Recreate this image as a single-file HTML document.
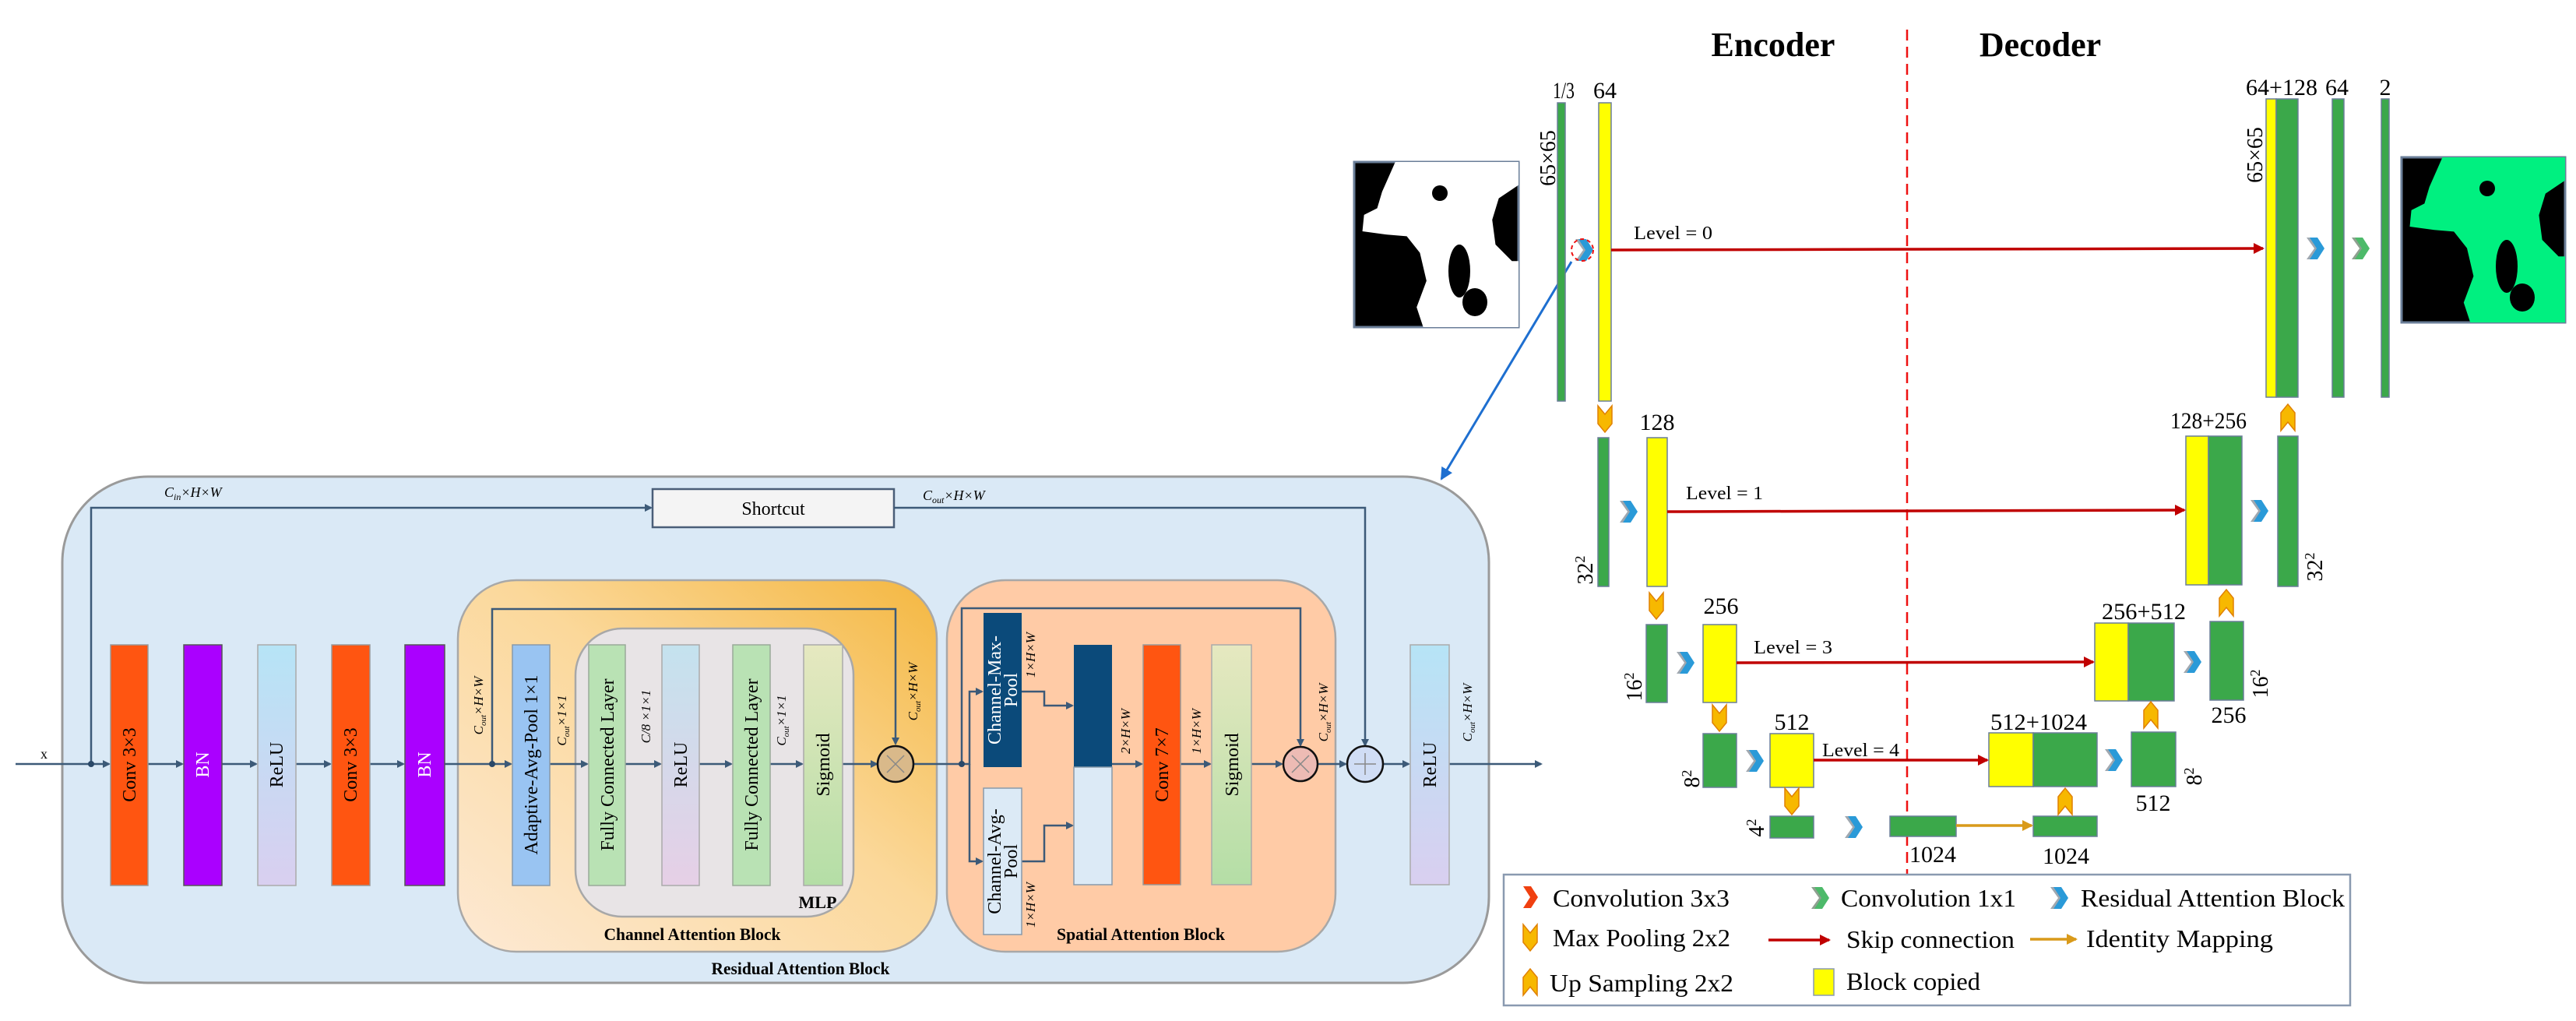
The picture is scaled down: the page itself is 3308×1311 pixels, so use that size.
<!DOCTYPE html>
<html><head><meta charset="utf-8"><style>
html,body{margin:0;padding:0;background:#fff;}
svg{display:block;}
text{font-family:"Liberation Serif",serif;}
</style></head><body>
<svg width="3308" height="1311" viewBox="0 0 3308 1311" xmlns="http://www.w3.org/2000/svg">
<defs>
<marker id="ar" markerWidth="10" markerHeight="10" refX="8" refY="5" orient="auto" markerUnits="userSpaceOnUse"><path d="M0,0 L10,5 L0,10 z" fill="#3C5A78"/></marker>
<marker id="arR" markerWidth="14" markerHeight="14" refX="12" refY="7" orient="auto" markerUnits="userSpaceOnUse"><path d="M0,0 L14,7 L0,14 z" fill="#C00000"/></marker>
<marker id="arO" markerWidth="14" markerHeight="14" refX="12" refY="7" orient="auto" markerUnits="userSpaceOnUse"><path d="M0,0 L14,7 L0,14 z" fill="#D99A1A"/></marker>
<marker id="arB" markerWidth="16" markerHeight="16" refX="14" refY="8" orient="auto" markerUnits="userSpaceOnUse"><path d="M0,0 L16,8 L0,16 z" fill="#1E6FD0"/></marker>
<linearGradient id="gRelu" x1="0" y1="0" x2="0" y2="1"><stop offset="0" stop-color="#B6E4F6"/><stop offset="1" stop-color="#D9CFF0"/></linearGradient>
<linearGradient id="gRelu2" x1="0" y1="0" x2="0" y2="1"><stop offset="0" stop-color="#C4E2EE"/><stop offset="1" stop-color="#E6CFE6"/></linearGradient>
<linearGradient id="gSig" x1="0" y1="0" x2="0" y2="1"><stop offset="0" stop-color="#E6E8C0"/><stop offset="1" stop-color="#B4DEA6"/></linearGradient>
<linearGradient id="gCab" x1="0" y1="1" x2="1" y2="0"><stop offset="0" stop-color="#FDE9D4"/><stop offset="0.55" stop-color="#FBD89A"/><stop offset="1" stop-color="#F4B740"/></linearGradient>
<g id="rab"><polygon points="-10,-14 2,-14 12,0 2,14 -10,14 0,0" fill="#A0A8B0"/><polygon points="-6,-14 4,-14 13,0 4,14 -6,14 3,0" fill="#2A9AD8"/></g>
<g id="c11"><polygon points="-10,-14 2,-14 12,0 2,14 -10,14 0,0" fill="#8FA090"/><polygon points="-6,-14 4,-14 13,0 4,14 -6,14 3,0" fill="#4DBA6A"/></g>
<g id="c33"><polygon points="-6,-14 4,-14 13,0 4,14 -6,14 3,0" fill="#F04010"/></g>
<polygon id="mp" points="-9,-17 0,-6 9,-17 9,6 0,17 -9,6" fill="#F7B800" stroke="#E08000" stroke-width="1.5"/>
<polygon id="up" points="-9,17 0,6 9,17 9,-6 0,-17 -9,-6" fill="#F7B800" stroke="#E08000" stroke-width="1.5"/>
<g id="pat">
<path d="M25,0 L100,0 L100,14 L88,22 L84,35 L86,50 L96,60 L100,60 L100,100 L42,100 L38,88 L44,72 L40,55 L32,45 L20,44 L5,42 L6,32 L14,28 L17,18 Z"/>
</g>
</defs>

<!-- ===== Residual Attention Block ===== -->
<rect x="80" y="612" width="1832" height="650" rx="110" ry="110" fill="#DAE9F6" stroke="#9A9A9A" stroke-width="3"/>
<rect x="588" y="745" width="615" height="477" rx="75" ry="75" fill="url(#gCab)" stroke="#A8A8A8" stroke-width="2.5"/>
<rect x="739" y="807" width="357" height="370" rx="60" ry="60" fill="#E8E4E6" stroke="#A8A8A8" stroke-width="2.5"/>
<rect x="1216" y="745" width="499" height="477" rx="75" ry="75" fill="#FFCBA6" stroke="#A8A8A8" stroke-width="2.5"/>

<rect x="838" y="628" width="310" height="49" fill="#F4F4F4" stroke="#4A5E78" stroke-width="2.5"/>
<text x="993" y="661" font-size="24" text-anchor="middle">Shortcut</text>
<text x="211" y="638" font-size="18" font-style="italic">C<tspan font-size="12" dy="4">in</tspan><tspan dy="-4">×H×W</tspan></text>
<text x="1185" y="642" font-size="18" font-style="italic">C<tspan font-size="12" dy="4">out</tspan><tspan dy="-4">×H×W</tspan></text>

<g stroke="#3C5A78" stroke-width="2.5" fill="none">
<path d="M20,981 L140,981" marker-end="url(#ar)"/>
<path d="M117,981 L117,652 L836,652" marker-end="url(#ar)"/>
<path d="M1148,652 L1753,652 L1753,957" marker-end="url(#ar)"/>
<path d="M190,981 L234,981" marker-end="url(#ar)"/>
<path d="M285,981 L329,981" marker-end="url(#ar)"/>
<path d="M380,981 L424,981" marker-end="url(#ar)"/>
<path d="M475,981 L518,981" marker-end="url(#ar)"/>
<path d="M571,981 L656,981" marker-end="url(#ar)"/>
<path d="M632,981 L632,782 L1150,782 L1150,955" marker-end="url(#ar)"/>
<path d="M706,981 L754,981" marker-end="url(#ar)"/>
<path d="M803,981 L848,981" marker-end="url(#ar)"/>
<path d="M898,981 L939,981" marker-end="url(#ar)"/>
<path d="M989,981 L1030,981" marker-end="url(#ar)"/>
<path d="M1082,981 L1126,981" marker-end="url(#ar)"/>
<path d="M1174,981 L1235,981"/>
<path d="M1235,981 L1235,781 L1670,781 L1670,957" marker-end="url(#ar)"/>
<path d="M1235,981 L1245,981 L1245,888 L1261,888" marker-end="url(#ar)"/>
<path d="M1245,981 L1245,1106 L1261,1106" marker-end="url(#ar)"/>
<path d="M1312,888 L1341,888 L1341,906 L1377,906" marker-end="url(#ar)"/>
<path d="M1312,1106 L1341,1106 L1341,1060 L1377,1060" marker-end="url(#ar)"/>
<path d="M1428,981 L1466,981" marker-end="url(#ar)"/>
<path d="M1516,981 L1554,981" marker-end="url(#ar)"/>
<path d="M1607,981 L1646,981" marker-end="url(#ar)"/>
<path d="M1692,981 L1728,981" marker-end="url(#ar)"/>
<path d="M1776,981 L1809,981" marker-end="url(#ar)"/>
<path d="M1861,981 L1979,981" marker-end="url(#ar)"/>
</g>
<g fill="#2A4868"><circle cx="117" cy="981" r="4"/><circle cx="632" cy="981" r="4"/><circle cx="1235" cy="981" r="4"/></g>
<text x="52" y="974" font-size="18">x</text>

<!-- blocks -->
<rect x="142" y="828" width="48" height="309" fill="#FF5511" stroke="#999" stroke-width="1.5"/>
<rect x="236" y="828" width="49" height="309" fill="#AA00FF" stroke="#555" stroke-width="1.5"/>
<rect x="331" y="828" width="49" height="309" fill="url(#gRelu)" stroke="#aaa" stroke-width="1.5"/>
<rect x="426" y="828" width="49" height="309" fill="#FF5511" stroke="#999" stroke-width="1.5"/>
<rect x="520" y="828" width="51" height="309" fill="#AA00FF" stroke="#555" stroke-width="1.5"/>
<rect x="658" y="828" width="48" height="309" fill="#99C4F2" stroke="#8899AA" stroke-width="1.5"/>
<rect x="756" y="828" width="47" height="309" fill="#B9E2B4" stroke="#99AA99" stroke-width="1.5"/>
<rect x="850" y="828" width="48" height="309" fill="url(#gRelu2)" stroke="#aaa" stroke-width="1.5"/>
<rect x="941" y="828" width="48" height="309" fill="#B9E2B4" stroke="#99AA99" stroke-width="1.5"/>
<rect x="1032" y="828" width="50" height="309" fill="url(#gSig)" stroke="#aaa" stroke-width="1.5"/>
<rect x="1263" y="787" width="49" height="198" fill="#0B4A7A"/>
<rect x="1263" y="1012" width="49" height="188" fill="#DCEAF6" stroke="#8899AA" stroke-width="1.5"/>
<rect x="1379" y="828" width="49" height="157" fill="#0B4A7A"/>
<rect x="1379" y="985" width="49" height="151" fill="#DCEAF6" stroke="#8899AA" stroke-width="1.5"/>
<rect x="1468" y="828" width="48" height="308" fill="#FF5511" stroke="#999" stroke-width="1.5"/>
<rect x="1556" y="828" width="51" height="308" fill="url(#gSig)" stroke="#aaa" stroke-width="1.5"/>
<rect x="1811" y="828" width="50" height="308" fill="url(#gRelu)" stroke="#aaa" stroke-width="1.5"/>

<circle cx="1150" cy="981" r="23" fill="#D9B98A" stroke="#111" stroke-width="2.5"/>
<path d="M1139,970 L1161,992 M1161,970 L1139,992" stroke="#888" stroke-width="1.5"/>
<circle cx="1670" cy="981" r="22" fill="#EDBBB4" stroke="#111" stroke-width="2.5"/>
<path d="M1659,970 L1681,992 M1681,970 L1659,992" stroke="#888" stroke-width="1.5"/>
<circle cx="1753" cy="981" r="23" fill="#D0DDF5" stroke="#111" stroke-width="2.5"/>
<path d="M1739,981 L1767,981 M1753,967 L1753,995" stroke="#888" stroke-width="1.5"/>

<g font-size="24" text-anchor="middle">
<text transform="translate(174,982) rotate(-90)">Conv 3×3</text>
<text transform="translate(268,982) rotate(-90)" fill="#fff">BN</text>
<text transform="translate(363,982) rotate(-90)">ReLU</text>
<text transform="translate(458,982) rotate(-90)">Conv 3×3</text>
<text transform="translate(553,982) rotate(-90)" fill="#fff">BN</text>
<text transform="translate(690,982) rotate(-90)">Adaptive-Avg-Pool 1×1</text>
<text transform="translate(788,982) rotate(-90)">Fully Connected Layer</text>
<text transform="translate(882,982) rotate(-90)">ReLU</text>
<text transform="translate(973,982) rotate(-90)">Fully Connected Layer</text>
<text transform="translate(1065,982) rotate(-90)">Sigmoid</text>
<text transform="translate(1285,886) rotate(-90)" fill="#fff">Channel-Max-</text>
<text transform="translate(1306,886) rotate(-90)" fill="#fff">Pool</text>
<text transform="translate(1285,1106) rotate(-90)">Channel-Avg-</text>
<text transform="translate(1306,1106) rotate(-90)">Pool</text>
<text transform="translate(1500,982) rotate(-90)">Conv 7×7</text>
<text transform="translate(1590,982) rotate(-90)">Sigmoid</text>
<text transform="translate(1844,982) rotate(-90)">ReLU</text>
</g>
<g font-size="17" font-style="italic" text-anchor="middle">
<text transform="translate(620,906) rotate(-90)">C<tspan font-size="11" dy="4">out</tspan><tspan dy="-4">×H×W</tspan></text>
<text transform="translate(727,925) rotate(-90)">C<tspan font-size="11" dy="4">out</tspan><tspan dy="-4">×1×1</tspan></text>
<text transform="translate(835,920) rotate(-90)">C/8 ×1×1</text>
<text transform="translate(1009,925) rotate(-90)">C<tspan font-size="11" dy="4">out</tspan><tspan dy="-4">×1×1</tspan></text>
<text transform="translate(1178,888) rotate(-90)">C<tspan font-size="11" dy="4">out</tspan><tspan dy="-4">×H×W</tspan></text>
<text transform="translate(1329,841) rotate(-90)">1×H×W</text>
<text transform="translate(1329,1162) rotate(-90)">1×H×W</text>
<text transform="translate(1451,939) rotate(-90)">2×H×W</text>
<text transform="translate(1542,939) rotate(-90)">1×H×W</text>
<text transform="translate(1705,915) rotate(-90)">C<tspan font-size="11" dy="4">out</tspan><tspan dy="-4">×H×W</tspan></text>
<text transform="translate(1890,915) rotate(-90)">C<tspan font-size="11" dy="4">out</tspan><tspan dy="-4">×H×W</tspan></text>
</g>
<g font-size="22" font-weight="bold" text-anchor="middle">
<text x="1050" y="1166" font-size="22">MLP</text>
<text x="889" y="1207" textLength="227" lengthAdjust="spacingAndGlyphs">Channel Attention Block</text>
<text x="1465" y="1207" textLength="216" lengthAdjust="spacingAndGlyphs">Spatial Attention Block</text>
<text x="1028" y="1251" textLength="229" lengthAdjust="spacingAndGlyphs">Residual Attention Block</text>
</g>

<!-- blue zoom link -->
<path d="M2018,336 L1851,615" stroke="#1E6FD0" stroke-width="3" fill="none" marker-end="url(#arB)"/>

<!-- ===== U-Net ===== -->
<text x="2277" y="72" font-size="44" font-weight="bold" text-anchor="middle">Encoder</text>
<text x="2620" y="72" font-size="44" font-weight="bold" text-anchor="middle">Decoder</text>
<line x1="2449" y1="38" x2="2449" y2="1122" stroke="#EE1111" stroke-width="2.5" stroke-dasharray="14,8"/>

<!-- images -->
<g transform="translate(1739,208)">
<rect width="211" height="212" fill="#000" stroke="#6A7E98" stroke-width="3"/>
<g transform="scale(2.11,2.12)" fill="#fff"><use href="#pat"/></g>
<ellipse cx="135" cy="140" rx="14" ry="34" fill="#000"/><ellipse cx="155" cy="180" rx="16" ry="18" fill="#000"/><ellipse cx="110" cy="40" rx="10" ry="10" fill="#000"/>
</g>
<g transform="translate(3084,202)">
<rect width="210" height="212" fill="#000" stroke="#6A7E98" stroke-width="3"/>
<g transform="scale(2.1,2.12)" fill="#00F080"><use href="#pat"/></g>
<ellipse cx="135" cy="140" rx="14" ry="34" fill="#000"/><ellipse cx="155" cy="180" rx="16" ry="18" fill="#000"/><ellipse cx="110" cy="40" rx="10" ry="10" fill="#000"/>
</g>

<g stroke="#6A7E98" stroke-width="1.5">
<!-- level 0 -->
<rect x="2000" y="132" width="10" height="383" fill="#3BA84A"/>
<rect x="2053" y="132" width="16" height="383" fill="#FFFF00"/>
<rect x="2910" y="127" width="13" height="383" fill="#FFFF00"/>
<rect x="2923" y="127" width="28" height="383" fill="#3BA84A"/>
<rect x="2995" y="127" width="15" height="383" fill="#3BA84A"/>
<rect x="3058" y="127" width="10" height="383" fill="#3BA84A"/>
<!-- level 1 -->
<rect x="2052" y="562" width="14" height="191" fill="#3BA84A"/>
<rect x="2115" y="562" width="26" height="191" fill="#FFFF00"/>
<rect x="2807" y="560" width="29" height="191" fill="#FFFF00"/>
<rect x="2836" y="560" width="43" height="191" fill="#3BA84A"/>
<rect x="2925" y="560" width="26" height="193" fill="#3BA84A"/>
<!-- level 3 -->
<rect x="2114" y="802" width="27" height="100" fill="#3BA84A"/>
<rect x="2187" y="802" width="43" height="100" fill="#FFFF00"/>
<rect x="2690" y="800" width="43" height="100" fill="#FFFF00"/>
<rect x="2733" y="800" width="59" height="100" fill="#3BA84A"/>
<rect x="2838" y="798" width="43" height="101" fill="#3BA84A"/>
<!-- level 4 -->
<rect x="2187" y="942" width="43" height="69" fill="#3BA84A"/>
<rect x="2273" y="942" width="56" height="69" fill="#FFFF00"/>
<rect x="2554" y="941" width="57" height="69" fill="#FFFF00"/>
<rect x="2611" y="941" width="82" height="69" fill="#3BA84A"/>
<rect x="2737" y="940" width="57" height="70" fill="#3BA84A"/>
<!-- bottom -->
<rect x="2273" y="1048" width="56" height="28" fill="#3BA84A"/>
<rect x="2427" y="1048" width="85" height="26" fill="#3BA84A"/>
<rect x="2611" y="1048" width="82" height="26" fill="#3BA84A"/>
</g>

<!-- skip arrows -->
<g stroke="#C00000" stroke-width="3.5" fill="none">
<path d="M2069,321 L2906,319" marker-end="url(#arR)"/>
<path d="M2141,657 L2805,655" marker-end="url(#arR)"/>
<path d="M2230,851 L2688,850" marker-end="url(#arR)"/>
<path d="M2329,976 L2552,976" marker-end="url(#arR)"/>
</g>
<path d="M2512,1060 L2609,1060" stroke="#D99A1A" stroke-width="3.5" marker-end="url(#arO)"/>

<!-- icons -->
<use href="#rab" x="2033" y="321"/>
<circle cx="2032" cy="321" r="14" fill="none" stroke="#EE1111" stroke-width="2" stroke-dasharray="5,4"/>
<use href="#rab" x="2972" y="319"/><use href="#c11" x="3030" y="319"/>
<use href="#rab" x="2090" y="657"/><use href="#rab" x="2900" y="656"/>
<use href="#rab" x="2163" y="851"/><use href="#rab" x="2814" y="850"/>
<use href="#rab" x="2252" y="977"/><use href="#rab" x="2713" y="976"/>
<use href="#rab" x="2379" y="1062"/>
<use href="#mp" x="2061" y="538"/><use href="#mp" x="2127" y="778"/><use href="#mp" x="2208" y="922"/><use href="#mp" x="2301" y="1029"/>
<use href="#up" x="2938" y="536"/><use href="#up" x="2859" y="774"/><use href="#up" x="2762" y="918"/><use href="#up" x="2652" y="1029"/>

<!-- U-Net labels -->
<g font-size="30" text-anchor="middle">
<text x="2008" y="126" textLength="28" lengthAdjust="spacingAndGlyphs">1/3</text>
<text x="2061" y="126">64</text>
<text x="2930" y="122" textLength="92" lengthAdjust="spacingAndGlyphs">64+128</text>
<text x="3001" y="122">64</text>
<text x="3063" y="122">2</text>
<text x="2128" y="552">128</text>
<text x="2836" y="550" textLength="98" lengthAdjust="spacingAndGlyphs">128+256</text>
<text x="2210" y="788">256</text>
<text x="2753" y="795" textLength="108" lengthAdjust="spacingAndGlyphs">256+512</text>
<text x="2862" y="928">256</text>
<text x="2301" y="937">512</text>
<text x="2618" y="937" textLength="124" lengthAdjust="spacingAndGlyphs">512+1024</text>
<text x="2765" y="1041">512</text>
<text x="2482" y="1107">1024</text>
<text x="2653" y="1109">1024</text>
</g>
<g font-size="28" text-anchor="middle">
<text transform="translate(1997,203) rotate(-90)">65×65</text>
<text transform="translate(2905,199) rotate(-90)">65×65</text>
<text transform="translate(2045,732) rotate(-90)">32<tspan font-size="18" dy="-10">2</tspan></text>
<text transform="translate(2982,728) rotate(-90)">32<tspan font-size="18" dy="-10">2</tspan></text>
<text transform="translate(2108,882) rotate(-90)">16<tspan font-size="18" dy="-10">2</tspan></text>
<text transform="translate(2912,878) rotate(-90)">16<tspan font-size="18" dy="-10">2</tspan></text>
<text transform="translate(2182,1000) rotate(-90)">8<tspan font-size="18" dy="-10">2</tspan></text>
<text transform="translate(2827,997) rotate(-90)">8<tspan font-size="18" dy="-10">2</tspan></text>
<text transform="translate(2265,1063) rotate(-90)">4<tspan font-size="18" dy="-10">2</tspan></text>
</g>
<g font-size="24">
<text x="2098" y="307" textLength="101" lengthAdjust="spacingAndGlyphs">Level = 0</text>
<text x="2165" y="641" textLength="99" lengthAdjust="spacingAndGlyphs">Level = 1</text>
<text x="2252" y="839" textLength="101" lengthAdjust="spacingAndGlyphs">Level = 3</text>
<text x="2340" y="971" textLength="99" lengthAdjust="spacingAndGlyphs">Level = 4</text>
</g>

<!-- legend -->
<rect x="1931" y="1123" width="1087" height="168" fill="#fff" stroke="#8A9AB0" stroke-width="2.5"/>
<use href="#c33" x="1962" y="1152"/>
<use href="#c11" x="2336" y="1153"/>
<use href="#rab" x="2643" y="1153"/>
<use href="#mp" x="1965" y="1204"/>
<use href="#up" x="1965" y="1261"/>
<path d="M2271,1207 L2349,1207" stroke="#C00000" stroke-width="3.5" marker-end="url(#arR)"/>
<path d="M2607,1206 L2666,1206" stroke="#D99A1A" stroke-width="3.5" marker-end="url(#arO)"/>
<rect x="2329" y="1244" width="26" height="34" fill="#FFFF00" stroke="#8A9AB0" stroke-width="1.5"/>
<g font-size="32">
<text x="1994" y="1164" textLength="227" lengthAdjust="spacingAndGlyphs">Convolution 3x3</text>
<text x="2364" y="1164" textLength="225" lengthAdjust="spacingAndGlyphs">Convolution 1x1</text>
<text x="2672" y="1164" textLength="339" lengthAdjust="spacingAndGlyphs">Residual Attention Block</text>
<text x="1994" y="1215" textLength="228" lengthAdjust="spacingAndGlyphs">Max Pooling 2x2</text>
<text x="2371" y="1217" textLength="216" lengthAdjust="spacingAndGlyphs">Skip connection</text>
<text x="2679" y="1216" textLength="240" lengthAdjust="spacingAndGlyphs">Identity Mapping</text>
<text x="1990" y="1273" textLength="236" lengthAdjust="spacingAndGlyphs">Up Sampling 2x2</text>
<text x="2371" y="1271" textLength="172" lengthAdjust="spacingAndGlyphs">Block copied</text>
</g>
</svg>
</body></html>
